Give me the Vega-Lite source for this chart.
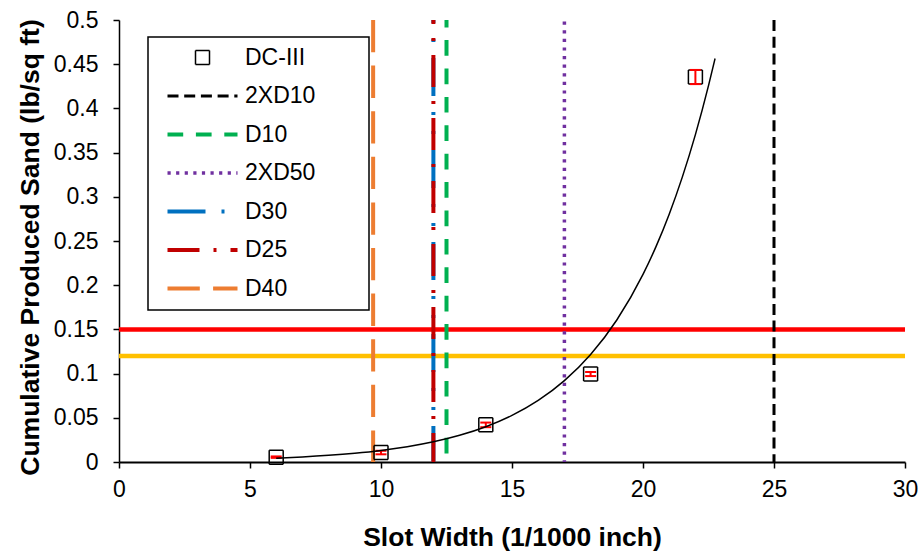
{
  "$schema": "https://vega.github.io/schema/vega-lite/v6.json",
  "width": 786,
  "height": 442,
  "autosize": {"type": "none"},
  "padding": {"left": 119, "top": 20, "right": 17, "bottom": 92},
  "background": "white",
  "datasets": {
    "dc3": [
      {"series": "DC-III", "slot": 6, "sand": 0.0055, "lo": 0.0047, "hi": 0.0063},
      {"series": "DC-III", "slot": 10, "sand": 0.0107, "lo": 0.0087, "hi": 0.0127},
      {"series": "DC-III", "slot": 14, "sand": 0.042, "lo": 0.0394, "hi": 0.0446},
      {"series": "DC-III", "slot": 18, "sand": 0.0995, "lo": 0.0972, "hi": 0.1018},
      {"series": "DC-III", "slot": 22, "sand": 0.4355, "lo": 0.4275, "hi": 0.4435}
    ],
    "trend": [
      {"slot": 6, "sand": 0.0043},
      {"slot": 7, "sand": 0.00568},
      {"slot": 8, "sand": 0.00751},
      {"slot": 9, "sand": 0.00992},
      {"slot": 10, "sand": 0.0131},
      {"slot": 11, "sand": 0.01731},
      {"slot": 12, "sand": 0.02287},
      {"slot": 13, "sand": 0.03021},
      {"slot": 14, "sand": 0.03991},
      {"slot": 15, "sand": 0.05273},
      {"slot": 16, "sand": 0.06966},
      {"slot": 17, "sand": 0.09203},
      {"slot": 18, "sand": 0.12158},
      {"slot": 19, "sand": 0.16063},
      {"slot": 20, "sand": 0.2122},
      {"slot": 20.5, "sand": 0.24391},
      {"slot": 21, "sand": 0.28034},
      {"slot": 21.5, "sand": 0.32226},
      {"slot": 22, "sand": 0.37036},
      {"slot": 22.5, "sand": 0.42575},
      {"slot": 22.75, "sand": 0.4564}
    ],
    "slots": [
      {"series": "2XD10", "slot": 25},
      {"series": "D10", "slot": 12.5},
      {"series": "2XD50", "slot": 17},
      {"series": "D30", "slot": 12},
      {"series": "D25", "slot": 12},
      {"series": "D40", "slot": 9.7}
    ],
    "limits": [
      {"limit": "upper", "sand": 0.15},
      {"limit": "lower", "sand": 0.12}
    ]
  },
  "layer": [
    {
      "data": {"name": "limits"},
      "transform": [{"filter": "datum.limit === 'upper'"}],
      "mark": {"type": "rule", "color": "#FF0000", "strokeWidth": 4.5},
      "encoding": {
        "y": {
          "field": "sand",
          "type": "quantitative",
          "scale": {"domain": [0, 0.5], "nice": false},
          "axis": {
            "title": "Cumulative Produced Sand (lb/sq ft)",
            "values": [0, 0.05, 0.1, 0.15, 0.2, 0.25, 0.3, 0.35, 0.4, 0.45, 0.5],
            "format": ".2~f",
            "labelPadding": 15,
            "labelFlush": false,
            "titlePadding": 9,
            "titleY": 227,
            "domainWidth": 1.5
          }
        }
      }
    },
    {
      "data": {"name": "limits"},
      "transform": [{"filter": "datum.limit === 'lower'"}],
      "mark": {"type": "rule", "color": "#FFC000", "strokeWidth": 4.5},
      "encoding": {"y": {"field": "sand", "type": "quantitative"}}
    },
    {
      "data": {"name": "slots"},
      "transform": [{"filter": "datum.series === '2XD10'"}],
      "mark": {"type": "rule", "strokeWidth": 3},
      "encoding": {
        "x": {
          "field": "slot",
          "type": "quantitative",
          "scale": {"domain": [0, 30], "nice": false, "zero": false},
          "axis": {
            "title": "Slot Width (1/1000 inch)",
            "values": [0, 5, 10, 15, 20, 25, 30],
            "format": "d",
            "labelPadding": 10,
            "labelFlush": false,
            "titlePadding": 23,
            "domainWidth": 2
          }
        },
        "color": {"field": "series", "type": "nominal"},
        "strokeDash": {"field": "series", "type": "nominal"}
      }
    },
    {
      "data": {"name": "slots"},
      "transform": [{"filter": "datum.series === 'D10'"}],
      "mark": {"type": "rule", "strokeWidth": 4, "strokeDashOffset": 8.3},
      "encoding": {
        "x": {"field": "slot", "type": "quantitative"},
        "color": {"field": "series", "type": "nominal"},
        "strokeDash": {"field": "series", "type": "nominal"}
      }
    },
    {
      "data": {"name": "slots"},
      "transform": [{"filter": "datum.series === '2XD50'"}],
      "mark": {"type": "rule", "strokeWidth": 3.5, "strokeDashOffset": 7},
      "encoding": {
        "x": {"field": "slot", "type": "quantitative"},
        "color": {"field": "series", "type": "nominal"},
        "strokeDash": {"field": "series", "type": "nominal"}
      }
    },
    {
      "data": {"name": "slots"},
      "transform": [{"filter": "datum.series === 'D30'"}],
      "mark": {"type": "rule", "strokeWidth": 4, "strokeDashOffset": 54},
      "encoding": {
        "x": {"field": "slot", "type": "quantitative"},
        "color": {"field": "series", "type": "nominal"},
        "strokeDash": {"field": "series", "type": "nominal"}
      }
    },
    {
      "data": {"name": "slots"},
      "transform": [{"filter": "datum.series === 'D25'"}],
      "mark": {"type": "rule", "strokeWidth": 4, "strokeDashOffset": 28},
      "encoding": {
        "x": {"field": "slot", "type": "quantitative"},
        "color": {"field": "series", "type": "nominal"},
        "strokeDash": {"field": "series", "type": "nominal"}
      }
    },
    {
      "data": {"name": "slots"},
      "transform": [{"filter": "datum.series === 'D40'"}],
      "mark": {"type": "rule", "strokeWidth": 4},
      "encoding": {
        "x": {"field": "slot", "type": "quantitative"},
        "color": {"field": "series", "type": "nominal"},
        "strokeDash": {"field": "series", "type": "nominal"}
      }
    },
    {
      "data": {"name": "dc3"},
      "mark": {"type": "point", "filled": false, "opacity": 1, "size": 400, "strokeWidth": 1.5},
      "encoding": {
        "x": {"field": "slot", "type": "quantitative"},
        "y": {"field": "sand", "type": "quantitative"},
        "color": {
          "field": "series",
          "type": "nominal",
          "scale": {
            "domain": ["DC-III", "2XD10", "D10", "2XD50", "D30", "D25", "D40"],
            "range": ["#000000", "#000000", "#00B050", "#7030A0", "#0070C0", "#C00000", "#ED7D31"]
          },
          "legend": {
            "title": " ",
            "titleOrient": "right",
            "titlePadding": 45,
            "orient": "none",
            "legendX": 29,
            "legendY": 17,
            "symbolStrokeWidth": {"expr": "datum.value === 'DC-III' ? 1.5 : datum.value === '2XD10' ? 3 : datum.value === '2XD50' ? 3.5 : 4"}
          }
        },
        "shape": {
          "field": "series",
          "type": "nominal",
          "scale": {
            "domain": ["DC-III", "2XD10", "D10", "2XD50", "D30", "D25", "D40"],
            "range": ["M-0.7,-0.7H0.7V0.7H-0.7Z", "M-3.5,0H3.5", "M-3.5,0H3.5", "M-3.5,0H3.5", "M-3.5,0H3.5", "M-3.5,0H3.5", "M-3.5,0H3.5"]
          },
          "legend": {"title": " "}
        },
        "strokeDash": {
          "field": "series",
          "type": "nominal",
          "scale": {
            "domain": ["DC-III", "2XD10", "D10", "2XD50", "D30", "D25", "D40"],
            "range": [[1, 0], [11, 5.7], [15.7, 12.7], [3.2, 5.4], [38, 16, 3, 16, 3, 16], [32, 14, 3, 14], [32.3, 13.3]]
          },
          "legend": {"title": " "}
        }
      }
    },
    {
      "data": {"name": "dc3"},
      "mark": {"type": "rule", "color": "#FF0000", "strokeWidth": 2},
      "encoding": {
        "x": {"field": "slot", "type": "quantitative"},
        "y": {"field": "lo", "type": "quantitative"},
        "y2": {"field": "hi"}
      }
    },
    {
      "data": {"name": "dc3"},
      "mark": {"type": "tick", "orient": "horizontal", "color": "#FF0000", "size": 11, "thickness": 2, "opacity": 1},
      "encoding": {
        "x": {"field": "slot", "type": "quantitative"},
        "y": {"field": "lo", "type": "quantitative"}
      }
    },
    {
      "data": {"name": "dc3"},
      "mark": {"type": "tick", "orient": "horizontal", "color": "#FF0000", "size": 11, "thickness": 2, "opacity": 1},
      "encoding": {
        "x": {"field": "slot", "type": "quantitative"},
        "y": {"field": "hi", "type": "quantitative"}
      }
    },
    {
      "data": {"name": "trend"},
      "mark": {"type": "line", "color": "#000000", "strokeWidth": 1.5, "interpolate": "monotone"},
      "encoding": {
        "x": {"field": "slot", "type": "quantitative"},
        "y": {"field": "sand", "type": "quantitative"}
      }
    }
  ],
  "config": {
    "font": "Liberation Sans",
    "view": {"stroke": null},
    "axis": {
      "grid": false,
      "domainColor": "#000000",
      "tickColor": "#000000",
      "tickSize": 6,
      "tickWidth": 1.5,
      "labelFont": "Liberation Sans",
      "labelFontSize": 23,
      "labelColor": "#000000",
      "titleFont": "Liberation Sans",
      "titleFontSize": 26.5,
      "titleFontWeight": "bold",
      "titleColor": "#000000"
    },
    "axisY": {"labelBaseline": "middle"},
    "legend": {
      "labelFont": "Liberation Sans",
      "labelFontSize": 23,
      "labelColor": "#000000",
      "titleFontSize": 23,
      "strokeColor": "#000000",
      "strokeWidth": 1.5,
      "fillColor": "#FFFFFF",
      "symbolSize": 400,
      "padding": 9,
      "rowPadding": 14.5,
      "symbolOffset": 34,
      "labelOffset": 31
    }
  }
}
